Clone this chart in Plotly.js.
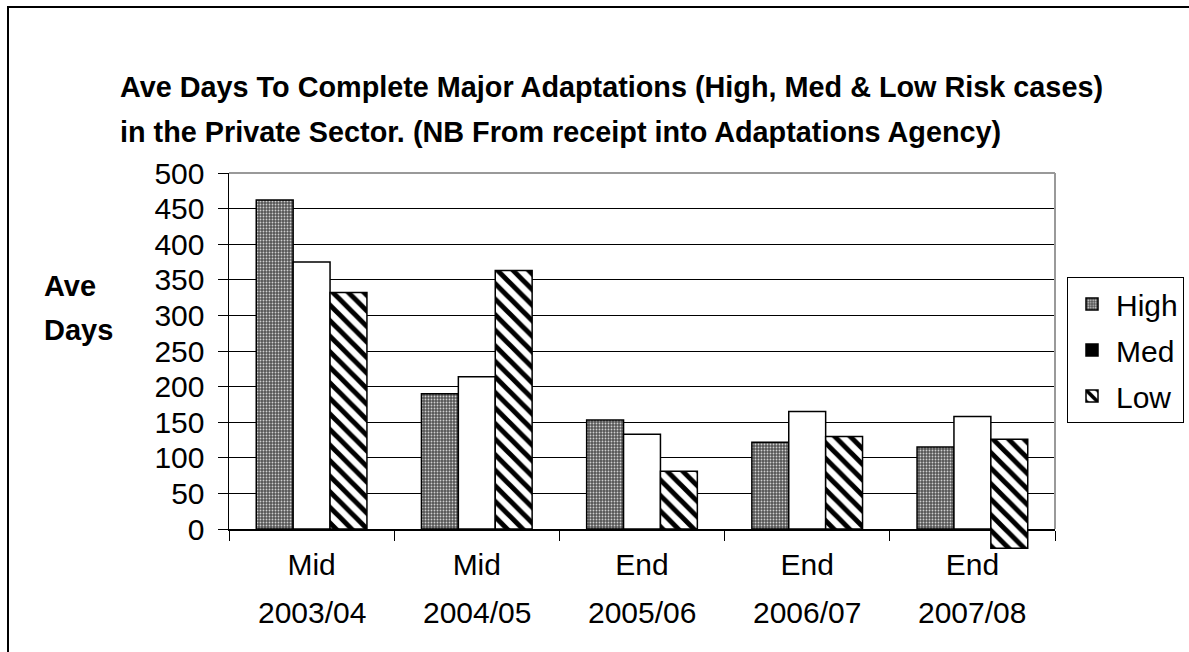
<!DOCTYPE html>
<html>
<head>
<meta charset="utf-8">
<script src="https://cdn.plot.ly/plotly-3.0.1.min.js"></script>
<style>html,body{margin:0;padding:0;background:#fff;}#chart{width:1189px;height:652px;}</style>
</head>
<body>
<div id="chart"></div>
<script>
// ---- data ----
const catTop = ['Mid', 'Mid', 'End', 'End', 'End'];
const catBottom = ['2003/04', '2004/05', '2005/06', '2006/07', '2007/08'];
const categories = catTop.map((t, i) => t + ' ' + catBottom[i]);
const high = [462, 190, 153, 122, 115];
const med = [375, 214, 133, 165, 158];
const lowTop = [332, 363, 81, 130, 126];
const lowBottom = [0, 0, 0, 0, -27];
const yTicks = [0, 50, 100, 150, 200, 250, 300, 350, 400, 450, 500];
const titleLines = [
  'Ave Days To Complete Major Adaptations (High, Med & Low Risk cases)',
  'in the Private Sector. (NB From receipt into Adaptations Agency)'
];
const yTitleLines = ['Ave', 'Days'];

// ---- geometry ----
const W = 1189, H = 652;
const mL = 229, mR = 134, mT = 173, mB = 93;
const plotW = W - mL - mR;          // 826
const plotH = H - mT - mB;          // 386
const ext = 30;                      // px below zero for the data subplot
const mainH = plotH - ext;           // 356
const px2x = px => (px - mL) / plotW;
const px2y = py => (H - mB - py) / plotH;

const FONT = 'Liberation Sans, Arial, sans-serif';
const outline = {color: '#000', width: 1.5};

const traces = [
  {
    type: 'bar', name: 'High', x: categories, y: high,
    xaxis: 'x2', yaxis: 'y2', legendrank: 1, legendgroup: 'a',
    marker: {color: '#6e6e6e', line: outline,
      pattern: {shape: '.', bgcolor: '#555555', fgcolor: '#cfcfcf', size: 3, solidity: 0.3}},
    hoverinfo: 'x+y'
  },
  {
    type: 'bar', name: 'Med', x: categories, y: med,
    xaxis: 'x2', yaxis: 'y2', showlegend: false,
    marker: {color: '#ffffff', line: outline},
    hoverinfo: 'x+y'
  },
  {
    type: 'bar', name: 'Low', x: categories,
    y: lowTop.map((v, i) => v - lowBottom[i]), base: lowBottom,
    xaxis: 'x2', yaxis: 'y2', legendrank: 3, legendgroup: 'c',
    marker: {color: '#ffffff', line: outline,
      pattern: {shape: '\\', bgcolor: '#ffffff', fgcolor: '#000000', size: 11, solidity: 0.45}},
    hoverinfo: 'x+y'
  },
  {
    // legend entry for Med (drawn black in the legend as in the original)
    type: 'bar', name: 'Med', x: categories, y: categories.map(() => null),
    xaxis: 'x', yaxis: 'y', legendrank: 2, legendgroup: 'b',
    marker: {color: '#000000', line: outline},
    hoverinfo: 'skip'
  }
];

const annotations = [];
titleLines.forEach((t, i) => {
  annotations.push({
    text: '<b>' + t + '</b>', xref: 'paper', yref: 'paper',
    x: px2x(118), y: px2y(i === 0 ? 87 : 132), xanchor: 'left', yanchor: 'middle',
    showarrow: false, font: {family: FONT, size: 28.8, color: '#000'}
  });
});
yTitleLines.forEach((t, i) => {
  annotations.push({
    text: '<b>' + t + '</b>', xref: 'paper', yref: 'paper',
    x: px2x(42), y: px2y(i === 0 ? 286 : 330), xanchor: 'left', yanchor: 'middle',
    showarrow: false, font: {family: FONT, size: 29, color: '#000'}
  });
});
catBottom.forEach((t, i) => {
  annotations.push({
    text: t, xref: 'x', yref: 'paper', x: categories[i], y: px2y(612),
    xanchor: 'center', yanchor: 'middle', showarrow: false,
    font: {family: FONT, size: 30, color: '#000'}
  });
});

const layout = {
  width: W, height: H,
  margin: {l: mL, r: mR, t: mT, b: mB, pad: 0, autoexpand: false},
  paper_bgcolor: '#ffffff', plot_bgcolor: 'rgba(0,0,0,0)',
  font: {family: FONT, color: '#000'},
  barmode: 'group', bargap: 0.33, bargroupgap: 0,
  showlegend: true,
  legend: {
    x: px2x(1067), y: px2y(277), xanchor: 'left', yanchor: 'top',
    bordercolor: '#000', borderwidth: 1, bgcolor: '#fff',
    font: {family: FONT, size: 30, color: '#000'},
    tracegroupgap: 4, traceorder: 'grouped', itemwidth: 38
  },
  xaxis: {
    type: 'category', anchor: 'y', domain: [0, 1],
    tickvals: categories, ticktext: catTop,
    tickson: 'boundaries', ticks: 'outside', ticklen: 10, tickcolor: '#000', tickwidth: 1,
    showline: true, linecolor: '#000', linewidth: 1.5, showgrid: false, zeroline: false,
    ticklabelstandoff: 8,
    tickfont: {family: FONT, size: 30, color: '#000'}
  },
  yaxis: {
    anchor: 'x', domain: [ext / plotH, 1], range: [0, 500],
    tickvals: yTicks, ticks: 'outside', ticklen: 10, tickcolor: '#000', tickwidth: 1,
    showline: true, linecolor: '#000', linewidth: 1.5,
    showgrid: true, gridcolor: '#000', gridwidth: 1, zeroline: false,
    ticklabelstandoff: 7,
    tickfont: {family: FONT, size: 30, color: '#000'}
  },
  xaxis2: {type: 'category', anchor: 'y2', domain: [0, 1], visible: false},
  yaxis2: {anchor: 'x2', domain: [0, 1], range: [-500 * ext / mainH, 500], visible: false},
  shapes: [
    {type: 'line', xref: 'x domain', yref: 'y domain', x0: 0, x1: 1, y0: 1, y1: 1,
     line: {color: '#999', width: 2}},
    {type: 'line', xref: 'x domain', yref: 'y domain', x0: 1, x1: 1, y0: 0, y1: 1,
     line: {color: '#999', width: 2}},
    {type: 'rect', xref: 'paper', yref: 'paper', x0: px2x(8), x1: px2x(1300), y0: px2y(800), y1: px2y(7),
     line: {color: '#000', width: 2}, fillcolor: 'rgba(0,0,0,0)'}
  ],
  annotations: annotations
};

Plotly.newPlot('chart', traces, layout, {displayModeBar: false, staticPlot: true});
</script>
</body>
</html>
